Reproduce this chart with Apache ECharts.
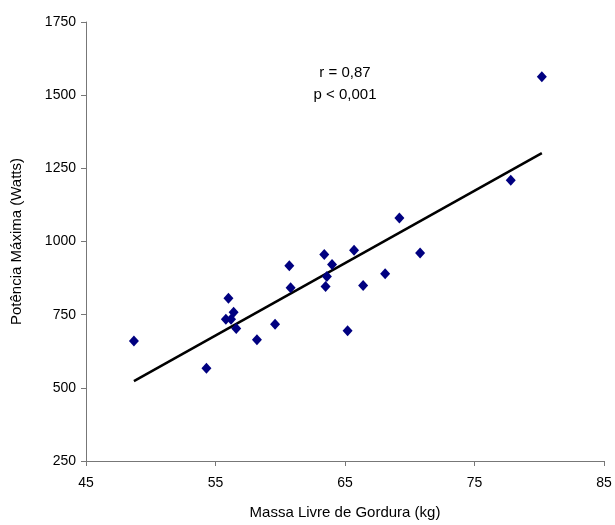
<!DOCTYPE html>
<html>
<head>
<meta charset="utf-8">
<script src="https://cdn.jsdelivr.net/npm/echarts@6/dist/echarts.min.js"></script>
<style>
    html, body { margin: 0; padding: 0; background: #fff; }
    #main { width: 615px; height: 525px; }
</style>
</head>
<body>
<div id="main"></div>
<script>
// massa livre de gordura (kg) x potência máxima (W)
var massa = [48.7, 54.3, 56.0, 55.8, 56.2, 56.4, 56.6, 58.2, 59.6, 60.7, 60.8, 63.4, 63.5, 63.6, 64.0, 65.2, 65.7, 66.4, 68.1, 69.2, 70.8, 77.8, 80.2];
var potencia = [660, 567, 806, 734, 734, 758, 703, 664, 717, 917, 842, 956, 846, 880, 921, 695, 970, 850, 890, 1080, 961, 1209, 1563];
// reta de regressão (extremos)
var retaX = [48.7, 80.2];
var retaY = [523, 1302];
var xTicks = [45, 55, 65, 75, 85];
var yTicks = [250, 500, 750, 1000, 1250, 1500, 1750];

var pontos = massa.map(function (m, i) { return [m, potencia[i]]; });
var reta = retaX.map(function (x, i) { return [x, retaY[i]]; });

var chart = echarts.init(document.getElementById('main'));
var fonte = 'Liberation Sans, Arial, sans-serif';
var option = {
    animation: false,
    grid: {
        left: 86,
        right: 11,
        top: 22,
        bottom: 64
    },
    xAxis: {
        type: 'value',
        min: xTicks[0],
        max: xTicks[xTicks.length - 1],
        interval: 10,
        name: 'Massa Livre de Gordura (kg)',
        nameLocation: 'middle',
        nameGap: 44,
        nameTextStyle: { color: '#000', fontSize: 15, fontFamily: fonte },
        axisLine: { lineStyle: { color: '#777', width: 1 } },
        axisTick: { length: 5, lineStyle: { color: '#777' } },
        axisLabel: {
            color: '#000', fontSize: 14, fontFamily: fonte, margin: 15,
            formatter: function (v) { return String(v); }
        },
        splitLine: { show: false }
    },
    yAxis: {
        type: 'value',
        min: yTicks[0],
        max: yTicks[yTicks.length - 1],
        interval: 250,
        name: 'Potência Máxima (Watts)',
        nameLocation: 'middle',
        nameGap: 62,
        nameTextStyle: { color: '#000', fontSize: 15, fontFamily: fonte },
        axisLine: { show: true, lineStyle: { color: '#777', width: 1 } },
        axisTick: { show: true, length: 5, lineStyle: { color: '#777' } },
        axisLabel: {
            color: '#000', fontSize: 14, fontFamily: fonte, margin: 10,
            formatter: function (v) { return String(v); }
        },
        splitLine: { show: false }
    },
    graphic: [
        {
            type: 'text',
            x: 345,
            y: 62,
            style: {
                text: 'r = 0,87\np < 0,001',
                textAlign: 'center',
                fontSize: 15,
                lineHeight: 22,
                fontFamily: fonte,
                fill: '#000'
            }
        }
    ],
    series: [
        {
            type: 'line',
            data: reta,
            symbol: 'none',
            lineStyle: { color: '#000', width: 2.5 },
            silent: true,
            z: 1
        },
        {
            type: 'scatter',
            data: pontos,
            symbol: 'diamond',
            symbolSize: [10, 11],
            itemStyle: { color: '#000080', opacity: 1 },
            z: 2
        }
    ]
};
chart.setOption(option);
</script>
</body>
</html>
